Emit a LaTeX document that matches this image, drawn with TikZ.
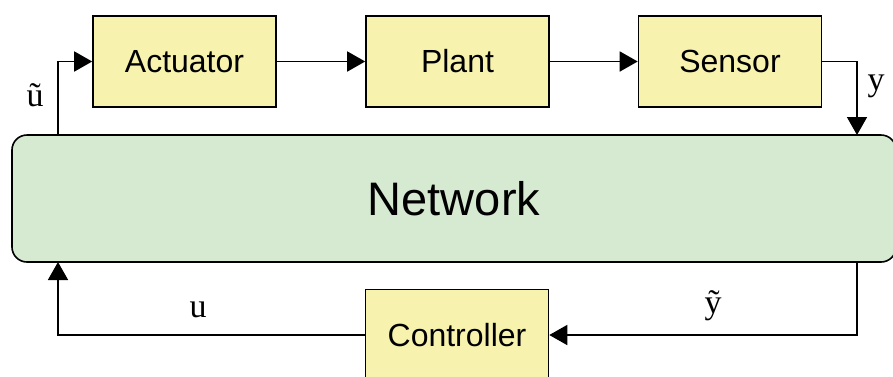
\documentclass[tikz,border=0pt]{standalone}
\usepackage{fontspec}
\setmainfont{Liberation Sans}
\newfontfamily\lblfont{Liberation Serif}
\usetikzlibrary{arrows.meta,positioning}
\definecolor{blockyellow}{RGB}{247,243,175}
\definecolor{netgreen}{RGB}{214,234,210}

\begin{document}
\begin{tikzpicture}[x=0.5pt, y=-0.5pt,
  block/.style={draw, line width=0.8pt, fill=blockyellow, minimum width=91.5pt, minimum height=45.5pt, font=\fontsize{16}{18}\selectfont},
  arr/.style={line width=0.8pt, -{Triangle[length=9pt, width=10pt]}},
  sig/.style={font=\lblfont\fontsize{17}{19}\selectfont}]
\useasboundingbox (0,0) rectangle (893,376);

% Network
\node[draw, line width=0.8pt, fill=netgreen, rounded corners=7.5pt, minimum width=442pt, minimum height=63.5pt, font=\fontsize{23.5}{26}\selectfont] (net) at (454,198.5) {Network};

% Blocks
\node[block] (act) at (184.5,61.5) {Actuator};
\node[block] (plant) at (457.5,61.5) {Plant};
\node[block] (sen) at (730,61.5) {Sensor};
\node[block] (ctl) at (457,335) {Controller};

% Network ports
\coordinate (uin) at (58,135);
\coordinate (yin) at (857,135);
\coordinate (yout) at (857,262);
\coordinate (uout) at (58,262);

% Forward path
\draw[arr] (uin) |- (act);
\draw[arr] (act) -- (plant);
\draw[arr] (plant) -- (sen);
\draw[arr] (sen) -| (yin);

% Feedback path
\draw[arr] (yout) |- (ctl);
\draw[arr] (ctl) -| (uout);

% Signal labels
\node[sig] (lutil) at (35,95) {ũ};
\node[sig] (ly) at (876,86) {y};
\node[sig] (lytil) at (713,306) {ỹ};
\node[sig] (lu) at (198,310) {u};
\end{tikzpicture}
\end{document}
